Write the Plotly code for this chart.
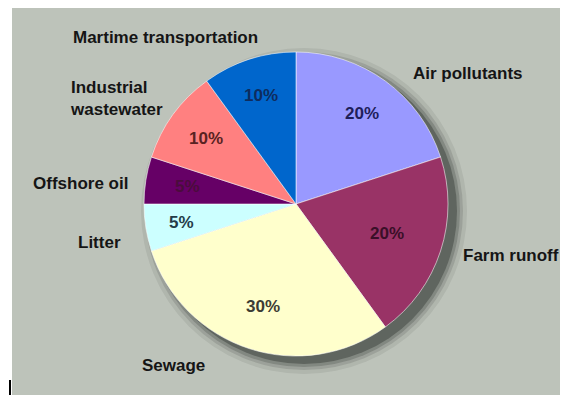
## Sources of marine pollution - pie chart with outside labels

import math
import plotly.graph_objects as go

W, H = 568, 395
OFF = 8  # page body margin that shifts the figure in the browser

# data
labels = ['Air pollutants', 'Farm runoff', 'Sewage', 'Litter', 'Offshore oil',
          'Industrial<br>wastewater', 'Martime transportation']
shares = [20, 20, 30, 5, 5, 10, 10]

# styles
slice_colors = ['#9999ff', '#993366', '#ffffcc', '#ccffff', '#660066', '#ff8080', '#0066cc']
pct_colors = ['#1e1e5a', '#3a0f28', '#3c3c34', '#243c48', '#4a0c3c', '#5a2222', '#0e2c5e']
pct_radius = [0.74, 0.63, 0.71, 0.76, 0.72, 0.73, 0.75]  # fraction of radius for the % text
label_pos = [(411, 73), (461, 255), (140, 365), (76, 242), (31, 184), (68, 98), (71, 38)]

bg = '#bdc3ba'
cx, cy, r = 296, 204, 152
font = 'Liberation Sans, Arial'


def px(x):
    return (x - OFF) / W


def py(y):
    return min(1, 1 - (y - OFF) / H)


fig = go.Figure()

fig.add_trace(go.Pie(
    labels=labels,
    values=shares,
    sort=False,
    direction='clockwise',
    rotation=0,
    marker=dict(colors=slice_colors, line=dict(color='rgba(255,255,255,0.55)', width=1)),
    textinfo='none',
    domain=dict(x=[px(cx - r), px(cx + r)], y=[py(cy + r), py(cy - r)]),
    showlegend=False,
    hoverinfo='label+percent',
))

shapes = []
# grey panel
shapes.append(dict(type='rect', xref='paper', yref='paper', x0=px(12), x1=1, y0=0, y1=py(6),
                   fillcolor=bg, line=dict(width=0), layer='below'))
# soft drop shadow behind the pie, mostly lower right
for grow, alpha in [(11, 0.07), (7, 0.12), (4, 0.18), (1, 0.3)]:
    ox, oy = cx + 8, cy + 7
    shapes.append(dict(type='circle', xref='paper', yref='paper',
                       x0=px(ox - r - grow), x1=px(ox + r + grow),
                       y0=py(oy + r + grow), y1=py(oy - r - grow),
                       fillcolor='rgba(15,20,15,%s)' % alpha, line=dict(width=0), layer='below'))
# stray cursor mark bottom left
shapes.append(dict(type='line', xref='paper', yref='paper', x0=px(10), x1=px(10), y0=py(380), y1=0,
                   line=dict(color='black', width=2)))

annotations = []
# outside category labels
for lab, (x, y) in zip(labels, label_pos):
    annotations.append(dict(text=lab, x=px(x), y=py(y), xref='paper', yref='paper',
                            xanchor='left', yanchor='middle', align='left', showarrow=False,
                            font=dict(family=font, size=17, color='#151515', weight='bold')))

# percent labels at the middle angle of each slice
total = sum(shares)
cum = 0
for v, col, fr in zip(shares, pct_colors, pct_radius):
    mid = (cum + v / 2) / total * 2 * math.pi
    cum += v
    tx = cx + fr * r * math.sin(mid)
    ty = cy - fr * r * math.cos(mid)
    annotations.append(dict(text='%d%%' % round(v / total * 100), x=px(tx), y=py(ty),
                            xref='paper', yref='paper', xanchor='center', yanchor='middle',
                            showarrow=False, font=dict(family=font, size=17, color=col, weight='bold')))

fig.update_layout(
    width=W, height=H,
    margin=dict(l=0, r=0, t=0, b=0),
    paper_bgcolor='white',
    plot_bgcolor='white',
    shapes=shapes,
    annotations=annotations,
)

fig.write_html("out.html")
